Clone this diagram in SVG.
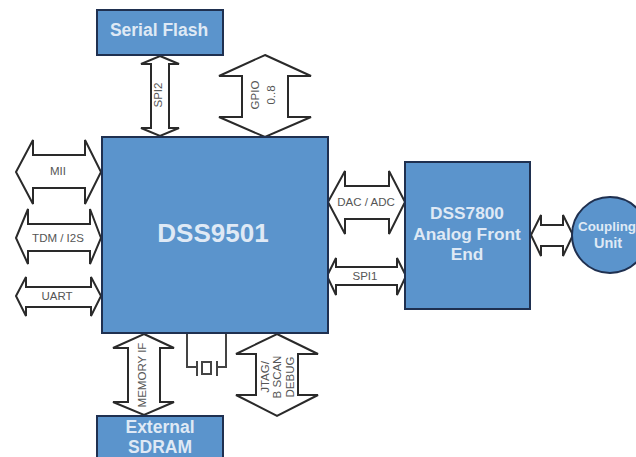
<svg xmlns="http://www.w3.org/2000/svg" width="636" height="457" viewBox="0 0 636 457">
<defs>
<style>
.box{fill:#5b94cc;stroke:#1f3050;stroke-width:2}
.arr{fill:#fff;stroke:#2a2a2a;stroke-width:2;stroke-linejoin:miter}
.w{fill:#dfe9f5;font-family:"Liberation Sans",Arial,sans-serif;font-weight:bold;text-anchor:middle}
.l{fill:#555;font-family:"Liberation Sans",Arial,sans-serif;font-size:11.500px;text-anchor:middle}
.wire{fill:none;stroke:#444;stroke-width:2}
</style>
</defs>
<rect width="636" height="457" fill="#fff"/>
<g id="connectors">
<polygon class="arr" points="160,56 179,64 169,64 169,128 179,128 160,136 141,128 151,128 151,64 141,64"/>
<polygon class="arr" points="265,55 311,76 288,76 288,117 311,117 265,137 219,117 242,117 242,76 219,76"/>
<polygon class="arr" points="16,172 33,140 33,155 85,155 85,140 101,172 85,204 85,188 33,188 33,204"/>
<polygon class="arr" points="16,238 28,209 28,224 90,224 90,209 101,238 90,264 90,251 28,251 28,264"/>
<polygon class="arr" points="16,296 26,277 26,287 91,287 91,277 101,296 91,316 91,307 26,307 26,316"/>
<polygon class="arr" points="144,334 174,348 160,348 160,402 174,402 144,415 113,402 128,402 128,348 113,348"/>
<polygon class="arr" points="277,334 318,354 298,354 298,395 318,395 277,416 236,395 256,395 256,354 236,354"/>
<polygon class="arr" points="328,202 345,171 345,186 389,186 389,171 405,202 389,234 389,219 345,219 345,234"/>
<polygon class="arr" points="327,276 336,258 336,267 397,267 397,258 406,276 397,295 397,285 336,285 336,295"/>
<polygon class="arr" points="531,235 541,215 541,225 563,225 563,215 573,235 563,256 563,246 541,246 541,256"/>
<path class="wire" d="M187,334V367H197M226,334V367H217"/>
<path class="wire" d="M197,361V376M217,361V376"/>
<rect class="wire" x="202" y="362" width="9" height="12"/>
</g>
<g id="serial-flash"><rect class="box" x="97" y="10" width="126" height="45"/><text class="w" x="159" y="36" font-size="17.500">Serial Flash</text></g>
<g id="dss9501"><rect class="box" x="102" y="137" width="226" height="196"/><text class="w" x="213" y="242" font-size="26">DSS9501</text></g>
<g id="dss7800"><rect class="box" x="405" y="162" width="125" height="147"/><text class="w" x="467" y="219" font-size="17.300">DSS7800</text><text class="w" x="467" y="239.500" font-size="17.300">Analog Front</text><text class="w" x="467" y="260" font-size="17.300">End</text></g>
<g id="coupling-unit"><circle class="box" cx="610" cy="235" r="38"/><text class="w" x="607" y="231" font-size="13.400">Coupling</text><text class="w" x="608" y="248" font-size="14.500">Unit</text></g>
<g id="external-sdram"><rect class="box" x="97" y="416" width="126" height="50"/><text class="w" x="160" y="433" font-size="17.500">External</text><text class="w" x="160" y="453" font-size="17.500">SDRAM</text></g>
<g id="labels">
<text class="l" transform="translate(162,95) rotate(-90)">SPI2</text>
<text class="l" transform="translate(259,95) rotate(-90)">GPIO</text>
<text class="l" transform="translate(275,95) rotate(-90)">0..8</text>
<text class="l" x="58" y="175">MII</text>
<text class="l" x="58" y="242">TDM / I2S</text>
<text class="l" x="57" y="300">UART</text>
<text class="l" transform="translate(146,375) rotate(-90)">MEMORY IF</text>
<text class="l" transform="translate(269,377) rotate(-90)">JTAG/</text>
<text class="l" transform="translate(281,377) rotate(-90)">B SCAN</text>
<text class="l" transform="translate(294,377) rotate(-90)">DEBUG</text>
<text class="l" x="366" y="206">DAC / ADC</text>
<text class="l" x="365" y="280">SPI1</text>
</g>
</svg>
